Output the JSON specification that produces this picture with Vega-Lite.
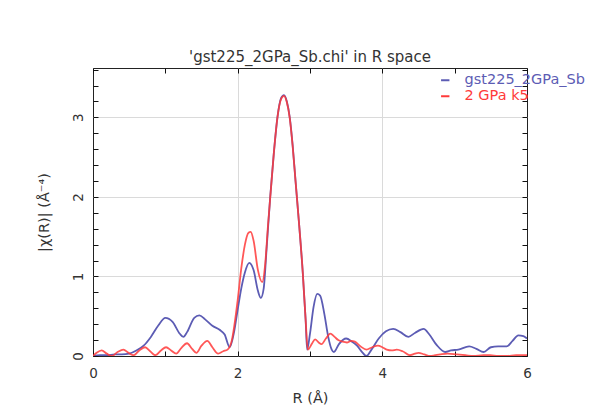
{
  "$schema": "https://vega.github.io/schema/vega-lite/v6.json",
  "width": 434,
  "height": 288,
  "autosize": "none",
  "padding": {"left": 93, "top": 68, "right": 75, "bottom": 54},
  "background": "white",
  "title": {
    "text": "'gst225_2GPa_Sb.chi' in R space",
    "font": "DejaVu Sans",
    "fontSize": 15,
    "fontWeight": "normal",
    "color": "#333",
    "offset": 3
  },
  "config": {
    "view": {"stroke": "#222", "strokeWidth": 1},
    "axis": {
      "domain": false,
      "zindex": 1,
      "ticks": true,
      "labelFlush": false,
      "labelFont": "DejaVu Sans",
      "titleFont": "DejaVu Sans",
      "labelFontSize": 13.5,
      "titleFontSize": 14.5,
      "titleFontWeight": "normal",
      "labelColor": "#333",
      "titleColor": "#333",
      "tickColor": "#111",
      "tickWidth": 1,
      "gridColor": "#dadada",
      "gridWidth": 1
    }
  },
  "datasets": {
    "chi": [
      {"series": "gst225_2GPa_Sb", "r": 0.0, "chi": 0.0},
      {"series": "gst225_2GPa_Sb", "r": 0.1, "chi": 0.01},
      {"series": "gst225_2GPa_Sb", "r": 0.2, "chi": 0.01},
      {"series": "gst225_2GPa_Sb", "r": 0.3, "chi": 0.02},
      {"series": "gst225_2GPa_Sb", "r": 0.4, "chi": 0.02},
      {"series": "gst225_2GPa_Sb", "r": 0.5, "chi": 0.03},
      {"series": "gst225_2GPa_Sb", "r": 0.6, "chi": 0.07},
      {"series": "gst225_2GPa_Sb", "r": 0.7, "chi": 0.13},
      {"series": "gst225_2GPa_Sb", "r": 0.8, "chi": 0.24},
      {"series": "gst225_2GPa_Sb", "r": 0.9, "chi": 0.38},
      {"series": "gst225_2GPa_Sb", "r": 1.0, "chi": 0.48},
      {"series": "gst225_2GPa_Sb", "r": 1.1, "chi": 0.43},
      {"series": "gst225_2GPa_Sb", "r": 1.2, "chi": 0.28},
      {"series": "gst225_2GPa_Sb", "r": 1.25, "chi": 0.24},
      {"series": "gst225_2GPa_Sb", "r": 1.3, "chi": 0.3},
      {"series": "gst225_2GPa_Sb", "r": 1.4, "chi": 0.48},
      {"series": "gst225_2GPa_Sb", "r": 1.47, "chi": 0.51},
      {"series": "gst225_2GPa_Sb", "r": 1.55, "chi": 0.46},
      {"series": "gst225_2GPa_Sb", "r": 1.65, "chi": 0.38},
      {"series": "gst225_2GPa_Sb", "r": 1.75, "chi": 0.33},
      {"series": "gst225_2GPa_Sb", "r": 1.82, "chi": 0.27},
      {"series": "gst225_2GPa_Sb", "r": 1.89, "chi": 0.11},
      {"series": "gst225_2GPa_Sb", "r": 1.95, "chi": 0.3},
      {"series": "gst225_2GPa_Sb", "r": 2.0, "chi": 0.58},
      {"series": "gst225_2GPa_Sb", "r": 2.05, "chi": 0.85},
      {"series": "gst225_2GPa_Sb", "r": 2.1, "chi": 1.05},
      {"series": "gst225_2GPa_Sb", "r": 2.16, "chi": 1.17},
      {"series": "gst225_2GPa_Sb", "r": 2.22, "chi": 1.08},
      {"series": "gst225_2GPa_Sb", "r": 2.28, "chi": 0.82},
      {"series": "gst225_2GPa_Sb", "r": 2.32, "chi": 0.73},
      {"series": "gst225_2GPa_Sb", "r": 2.36, "chi": 0.85},
      {"series": "gst225_2GPa_Sb", "r": 2.4, "chi": 1.35},
      {"series": "gst225_2GPa_Sb", "r": 2.45, "chi": 2.0},
      {"series": "gst225_2GPa_Sb", "r": 2.5, "chi": 2.55},
      {"series": "gst225_2GPa_Sb", "r": 2.55, "chi": 3.0},
      {"series": "gst225_2GPa_Sb", "r": 2.6, "chi": 3.24},
      {"series": "gst225_2GPa_Sb", "r": 2.64, "chi": 3.28},
      {"series": "gst225_2GPa_Sb", "r": 2.68, "chi": 3.2},
      {"series": "gst225_2GPa_Sb", "r": 2.72, "chi": 3.0},
      {"series": "gst225_2GPa_Sb", "r": 2.76, "chi": 2.65},
      {"series": "gst225_2GPa_Sb", "r": 2.8, "chi": 2.2},
      {"series": "gst225_2GPa_Sb", "r": 2.85, "chi": 1.65},
      {"series": "gst225_2GPa_Sb", "r": 2.9, "chi": 1.05},
      {"series": "gst225_2GPa_Sb", "r": 2.94, "chi": 0.45},
      {"series": "gst225_2GPa_Sb", "r": 2.96, "chi": 0.08},
      {"series": "gst225_2GPa_Sb", "r": 3.0, "chi": 0.28},
      {"series": "gst225_2GPa_Sb", "r": 3.05, "chi": 0.62},
      {"series": "gst225_2GPa_Sb", "r": 3.1, "chi": 0.78},
      {"series": "gst225_2GPa_Sb", "r": 3.14, "chi": 0.76},
      {"series": "gst225_2GPa_Sb", "r": 3.2, "chi": 0.52},
      {"series": "gst225_2GPa_Sb", "r": 3.25, "chi": 0.25},
      {"series": "gst225_2GPa_Sb", "r": 3.3, "chi": 0.08},
      {"series": "gst225_2GPa_Sb", "r": 3.33, "chi": 0.05},
      {"series": "gst225_2GPa_Sb", "r": 3.4, "chi": 0.15},
      {"series": "gst225_2GPa_Sb", "r": 3.5, "chi": 0.22},
      {"series": "gst225_2GPa_Sb", "r": 3.58, "chi": 0.18},
      {"series": "gst225_2GPa_Sb", "r": 3.65, "chi": 0.13},
      {"series": "gst225_2GPa_Sb", "r": 3.72, "chi": 0.05},
      {"series": "gst225_2GPa_Sb", "r": 3.78, "chi": 0.0},
      {"series": "gst225_2GPa_Sb", "r": 3.85, "chi": 0.08},
      {"series": "gst225_2GPa_Sb", "r": 3.95, "chi": 0.22},
      {"series": "gst225_2GPa_Sb", "r": 4.05, "chi": 0.31},
      {"series": "gst225_2GPa_Sb", "r": 4.15, "chi": 0.34},
      {"series": "gst225_2GPa_Sb", "r": 4.25, "chi": 0.3},
      {"series": "gst225_2GPa_Sb", "r": 4.36, "chi": 0.24},
      {"series": "gst225_2GPa_Sb", "r": 4.45, "chi": 0.29},
      {"series": "gst225_2GPa_Sb", "r": 4.57, "chi": 0.34},
      {"series": "gst225_2GPa_Sb", "r": 4.65, "chi": 0.27},
      {"series": "gst225_2GPa_Sb", "r": 4.75, "chi": 0.14},
      {"series": "gst225_2GPa_Sb", "r": 4.87, "chi": 0.05},
      {"series": "gst225_2GPa_Sb", "r": 4.95, "chi": 0.07},
      {"series": "gst225_2GPa_Sb", "r": 5.05, "chi": 0.08},
      {"series": "gst225_2GPa_Sb", "r": 5.2, "chi": 0.12},
      {"series": "gst225_2GPa_Sb", "r": 5.3, "chi": 0.09},
      {"series": "gst225_2GPa_Sb", "r": 5.4, "chi": 0.05},
      {"series": "gst225_2GPa_Sb", "r": 5.5, "chi": 0.11},
      {"series": "gst225_2GPa_Sb", "r": 5.6, "chi": 0.12},
      {"series": "gst225_2GPa_Sb", "r": 5.72, "chi": 0.12},
      {"series": "gst225_2GPa_Sb", "r": 5.8, "chi": 0.19},
      {"series": "gst225_2GPa_Sb", "r": 5.88, "chi": 0.26},
      {"series": "gst225_2GPa_Sb", "r": 5.95, "chi": 0.25},
      {"series": "gst225_2GPa_Sb", "r": 6.0, "chi": 0.22},
      {"series": "2 GPa k5", "r": 0.0, "chi": 0.0},
      {"series": "2 GPa k5", "r": 0.05, "chi": 0.04},
      {"series": "2 GPa k5", "r": 0.12, "chi": 0.07},
      {"series": "2 GPa k5", "r": 0.19, "chi": 0.03},
      {"series": "2 GPa k5", "r": 0.26, "chi": 0.0},
      {"series": "2 GPa k5", "r": 0.34, "chi": 0.05},
      {"series": "2 GPa k5", "r": 0.42, "chi": 0.08},
      {"series": "2 GPa k5", "r": 0.49, "chi": 0.04},
      {"series": "2 GPa k5", "r": 0.56, "chi": 0.01},
      {"series": "2 GPa k5", "r": 0.64, "chi": 0.07},
      {"series": "2 GPa k5", "r": 0.72, "chi": 0.11},
      {"series": "2 GPa k5", "r": 0.79, "chi": 0.06},
      {"series": "2 GPa k5", "r": 0.86, "chi": 0.01},
      {"series": "2 GPa k5", "r": 0.94, "chi": 0.07},
      {"series": "2 GPa k5", "r": 1.01, "chi": 0.11},
      {"series": "2 GPa k5", "r": 1.08, "chi": 0.07},
      {"series": "2 GPa k5", "r": 1.15, "chi": 0.03},
      {"series": "2 GPa k5", "r": 1.22, "chi": 0.1},
      {"series": "2 GPa k5", "r": 1.3, "chi": 0.16},
      {"series": "2 GPa k5", "r": 1.37, "chi": 0.09},
      {"series": "2 GPa k5", "r": 1.43, "chi": 0.04},
      {"series": "2 GPa k5", "r": 1.5, "chi": 0.13},
      {"series": "2 GPa k5", "r": 1.58, "chi": 0.19},
      {"series": "2 GPa k5", "r": 1.65, "chi": 0.11},
      {"series": "2 GPa k5", "r": 1.73, "chi": 0.03},
      {"series": "2 GPa k5", "r": 1.8, "chi": 0.06},
      {"series": "2 GPa k5", "r": 1.86, "chi": 0.08},
      {"series": "2 GPa k5", "r": 1.92, "chi": 0.2},
      {"series": "2 GPa k5", "r": 2.0, "chi": 0.7},
      {"series": "2 GPa k5", "r": 2.05, "chi": 1.1},
      {"series": "2 GPa k5", "r": 2.1, "chi": 1.4},
      {"series": "2 GPa k5", "r": 2.15, "chi": 1.55},
      {"series": "2 GPa k5", "r": 2.18, "chi": 1.56},
      {"series": "2 GPa k5", "r": 2.22, "chi": 1.45},
      {"series": "2 GPa k5", "r": 2.28, "chi": 1.08},
      {"series": "2 GPa k5", "r": 2.34, "chi": 0.93},
      {"series": "2 GPa k5", "r": 2.38, "chi": 1.15},
      {"series": "2 GPa k5", "r": 2.42, "chi": 1.65},
      {"series": "2 GPa k5", "r": 2.46, "chi": 2.1},
      {"series": "2 GPa k5", "r": 2.5, "chi": 2.55},
      {"series": "2 GPa k5", "r": 2.55, "chi": 3.0},
      {"series": "2 GPa k5", "r": 2.6, "chi": 3.23},
      {"series": "2 GPa k5", "r": 2.64, "chi": 3.27},
      {"series": "2 GPa k5", "r": 2.68, "chi": 3.19},
      {"series": "2 GPa k5", "r": 2.72, "chi": 2.99},
      {"series": "2 GPa k5", "r": 2.76, "chi": 2.64},
      {"series": "2 GPa k5", "r": 2.8, "chi": 2.2},
      {"series": "2 GPa k5", "r": 2.85, "chi": 1.65},
      {"series": "2 GPa k5", "r": 2.9, "chi": 1.05},
      {"series": "2 GPa k5", "r": 2.94, "chi": 0.45},
      {"series": "2 GPa k5", "r": 2.97, "chi": 0.08},
      {"series": "2 GPa k5", "r": 3.03, "chi": 0.16},
      {"series": "2 GPa k5", "r": 3.07, "chi": 0.21},
      {"series": "2 GPa k5", "r": 3.12, "chi": 0.17},
      {"series": "2 GPa k5", "r": 3.16, "chi": 0.15},
      {"series": "2 GPa k5", "r": 3.22, "chi": 0.22},
      {"series": "2 GPa k5", "r": 3.28, "chi": 0.28},
      {"series": "2 GPa k5", "r": 3.34, "chi": 0.24},
      {"series": "2 GPa k5", "r": 3.39, "chi": 0.2},
      {"series": "2 GPa k5", "r": 3.45, "chi": 0.18},
      {"series": "2 GPa k5", "r": 3.51, "chi": 0.17},
      {"series": "2 GPa k5", "r": 3.57, "chi": 0.19},
      {"series": "2 GPa k5", "r": 3.62, "chi": 0.18},
      {"series": "2 GPa k5", "r": 3.7, "chi": 0.12},
      {"series": "2 GPa k5", "r": 3.78, "chi": 0.08},
      {"series": "2 GPa k5", "r": 3.86, "chi": 0.11},
      {"series": "2 GPa k5", "r": 3.94, "chi": 0.13},
      {"series": "2 GPa k5", "r": 4.0, "chi": 0.11},
      {"series": "2 GPa k5", "r": 4.06, "chi": 0.08},
      {"series": "2 GPa k5", "r": 4.13, "chi": 0.07},
      {"series": "2 GPa k5", "r": 4.2, "chi": 0.08},
      {"series": "2 GPa k5", "r": 4.28, "chi": 0.06},
      {"series": "2 GPa k5", "r": 4.38, "chi": 0.01},
      {"series": "2 GPa k5", "r": 4.45, "chi": 0.03},
      {"series": "2 GPa k5", "r": 4.5, "chi": 0.04},
      {"series": "2 GPa k5", "r": 4.58, "chi": 0.02},
      {"series": "2 GPa k5", "r": 4.66, "chi": 0.0},
      {"series": "2 GPa k5", "r": 4.73, "chi": 0.01},
      {"series": "2 GPa k5", "r": 4.8, "chi": 0.02},
      {"series": "2 GPa k5", "r": 4.9, "chi": 0.03},
      {"series": "2 GPa k5", "r": 5.03, "chi": 0.02},
      {"series": "2 GPa k5", "r": 5.15, "chi": 0.01},
      {"series": "2 GPa k5", "r": 5.26, "chi": 0.0},
      {"series": "2 GPa k5", "r": 5.4, "chi": 0.01},
      {"series": "2 GPa k5", "r": 5.49, "chi": 0.01},
      {"series": "2 GPa k5", "r": 5.6, "chi": 0.0},
      {"series": "2 GPa k5", "r": 5.72, "chi": 0.0},
      {"series": "2 GPa k5", "r": 5.85, "chi": 0.01},
      {"series": "2 GPa k5", "r": 6.0, "chi": 0.01}
    ]
  },
  "data": {"name": "chi"},
  "layer": [
    {
      "transform": [{"filter": "datum.series === 'gst225_2GPa_Sb'"}],
      "mark": {"type": "line", "interpolate": "monotone", "strokeWidth": 1.8, "clip": true},
      "encoding": {
        "x": {
          "field": "r", "type": "quantitative",
          "scale": {"domain": [0, 6], "nice": false},
          "axis": {
            "orient": "bottom",
            "title": "R (Å)",
            "titlePadding": 12,
            "values": [0, 1, 2, 3, 4, 5, 6],
            "labelExpr": "datum.value % 2 === 0 ? datum.label : ''",
            "tickSize": -5,
            "labelPadding": 15,
            "grid": true,
            "gridOpacity": {"condition": {"test": "datum.value === 2 || datum.value === 4", "value": 1}, "value": 0}
          }
        },
        "y": {
          "field": "chi", "type": "quantitative",
          "scale": {"domain": [0, 3.62], "nice": false, "zero": false},
          "axis": {
            "orient": "left",
            "title": "|χ(R)| (Å⁻⁴)",
            "titlePadding": 20,
            "values": [0, 0.2, 0.4, 0.6, 0.8, 1, 1.2, 1.4, 1.6, 1.8, 2, 2.2, 2.4, 2.6, 2.8, 3, 3.2, 3.4, 3.6],
            "labelExpr": "datum.value % 1 === 0 ? format(datum.value, 'd') : ''",
            "labelAngle": -90,
            "labelAlign": "center",
            "labelBaseline": "bottom",
            "tickSize": -5,
            "labelPadding": 13,
            "grid": true,
            "gridOpacity": {"condition": {"test": "datum.value === 1 || datum.value === 2 || datum.value === 3", "value": 1}, "value": 0}
          }
        },
        "color": {
          "field": "series", "type": "nominal",
          "scale": {"domain": ["gst225_2GPa_Sb", "2 GPa k5"], "range": ["#5c5cb4", "#ff3a3a"]},
          "legend": {
            "title": null,
            "orient": "none",
            "legendX": 345,
            "legendY": 5,
            "padding": 0,
            "symbolType": "stroke",
            "symbolSize": 70,
            "symbolStrokeWidth": 2,
            "labelFont": "DejaVu Sans",
            "labelFontSize": 14.5,
            "labelOffset": 12,
            "labelLimit": 300,
            "rowPadding": 1,
            "encode": {
              "labels": {"update": {"fill": {"signal": "datum.label === 'gst225_2GPa_Sb' ? '#5c5cb4' : '#ff3a3a'"}}}
            }
          }
        }
      }
    },
    {
      "transform": [{"filter": "datum.series === '2 GPa k5'"}],
      "mark": {"type": "line", "interpolate": "monotone", "strokeWidth": 1.8, "opacity": 0.85, "clip": true},
      "encoding": {
        "x": {
          "field": "r", "type": "quantitative",
          "axis": {"orient": "top", "title": null, "labels": false, "grid": false, "values": [0, 1, 2, 3, 4, 5, 6], "tickSize": -5}
        },
        "y": {
          "field": "chi", "type": "quantitative",
          "axis": {"orient": "right", "title": null, "labels": false, "grid": false, "values": [0, 0.2, 0.4, 0.6, 0.8, 1, 1.2, 1.4, 1.6, 1.8, 2, 2.2, 2.4, 2.6, 2.8, 3, 3.2, 3.4, 3.6], "tickSize": -5}
        },
        "color": {"field": "series", "type": "nominal"}
      }
    }
  ],
  "resolve": {"axis": {"x": "independent", "y": "independent"}}
}
